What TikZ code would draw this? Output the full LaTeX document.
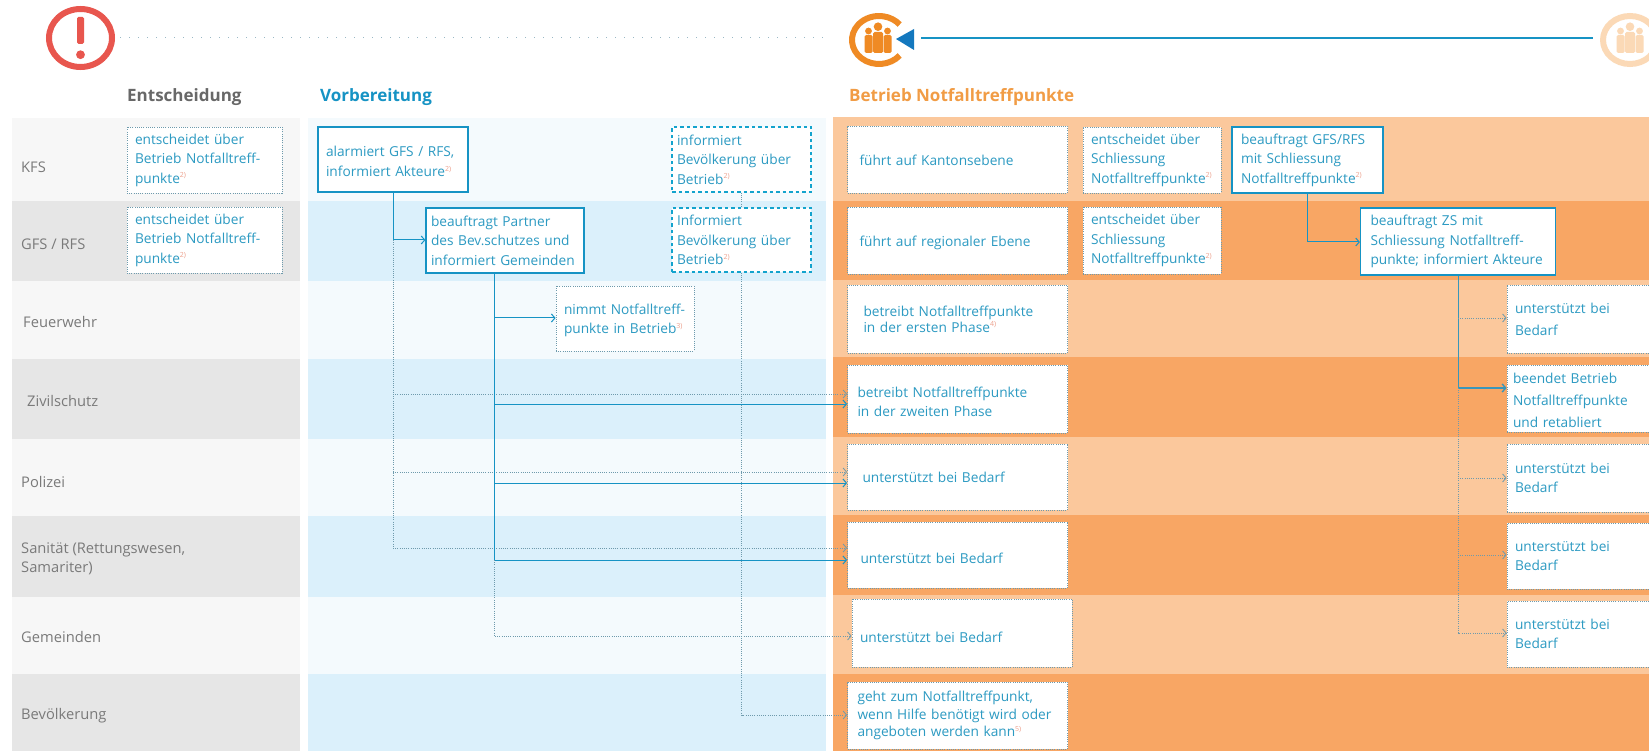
\documentclass[tikz,border=0pt]{standalone}
\usepackage{fontspec}
\setmainfont{Open Sans}
\usetikzlibrary{arrows.meta}
\definecolor{flowblue}{HTML}{1693C4}
\definecolor{txtblue}{HTML}{2C9AC2}
\definecolor{txtgray}{HTML}{7A7A7A}
\definecolor{dotgray}{HTML}{6E9AAC}
\definecolor{notered}{HTML}{EDA08C}
\definecolor{greylo}{HTML}{F7F7F7}
\definecolor{greyhi}{HTML}{E6E6E6}
\definecolor{bluelo}{HTML}{F4FAFD}
\definecolor{bluehi}{HTML}{DBF0FB}
\definecolor{orangelo}{HTML}{FBC89C}
\definecolor{orangehi}{HTML}{F8A664}
\definecolor{alarmred}{HTML}{E8564E}
\definecolor{personorange}{HTML}{EF8A24}
\definecolor{personpale}{HTML}{FBD9B6}
\definecolor{tipblue}{HTML}{1478BE}
\newcommand{\fn}[1]{\textsuperscript{\textcolor{notered}{\scriptsize #1)}}}
\newcommand{\lowered}[1]{\rule{0pt}{#1pt}}
\newcommand{\peopleicon}[2]{%
  \fill[#2] (#1-9.5,31) circle (3.4);
  \fill[#2] (#1,26.7) circle (4.3);
  \fill[#2] (#1+9.5,31) circle (3.4);
  \fill[#2,rounded corners=1.5] (#1-13.5,35) rectangle (#1-5.5,53);
  \fill[#2,rounded corners=1.5] (#1-5,32) rectangle (#1+5,53);
  \fill[#2,rounded corners=1.5] (#1+5.5,35) rectangle (#1+13.5,53);
}
\tikzset{
  rowlabel/.style={anchor=west,align=left,text=txtgray,font=\fontsize{14.7}{19}\selectfont,inner sep=0pt},
  headlabel/.style={anchor=west,font=\fontsize{17}{20}\selectfont\bfseries,inner sep=0pt},
  flowbox/.style={fill=white,align=left,text=txtblue,inner ysep=0pt,inner xsep=8pt,font=\fontsize{13.7}{19.5}\selectfont},
  dotbox/.style={flowbox,draw=dotgray,line width=0.8pt,dash pattern=on 1pt off 1.2pt},
  dashbox/.style={flowbox,draw=flowblue!85!cyan,line width=1.1pt,dash pattern=on 3.5pt off 3pt},
  solidbox/.style={flowbox,draw=flowblue,line width=1.2pt},
  solidarrow/.style={draw=flowblue,line width=1pt,-{Straight Barb[length=3.5pt,width=8pt]}},
  solidline/.style={draw=flowblue,line width=1pt},
  dotarrow/.style={draw=dotgray,line width=0.8pt,dash pattern=on 1pt off 1.2pt,-{Straight Barb[length=3.5pt,width=8pt,sep=0pt,line width=0.8pt]}},
  dotline/.style={draw=dotgray,line width=0.8pt,dash pattern=on 1pt off 1.2pt}
}
\begin{document}
\begin{tikzpicture}[x=1pt,y=-1pt]
  \useasboundingbox (0,0) rectangle (1649,751);
  \fill[white] (0,0) rectangle (1649,751);

  % row bands
  \fill[greylo] (12,118) rectangle (300,201);
  \fill[greyhi] (12,201) rectangle (300,281);
  \fill[greylo] (12,281) rectangle (300,359);
  \fill[greyhi] (12,359) rectangle (300,439);
  \fill[greylo] (12,439) rectangle (300,516);
  \fill[greyhi] (12,516) rectangle (300,597);
  \fill[greylo] (12,597) rectangle (300,674);
  \fill[greyhi] (12,674) rectangle (300,751);

  \fill[bluelo] (308,118) rectangle (826,201);
  \fill[bluehi] (308,201) rectangle (826,281);
  \fill[bluelo] (308,281) rectangle (826,359);
  \fill[bluehi] (308,359) rectangle (826,439);
  \fill[bluelo] (308,439) rectangle (826,516);
  \fill[bluehi] (308,516) rectangle (826,597);
  \fill[bluelo] (308,597) rectangle (826,674);
  \fill[bluehi] (308,674) rectangle (826,751);

  \fill[orangelo] (833,117) rectangle (1649,201);
  \fill[orangehi] (833,201) rectangle (1649,280);
  \fill[orangelo] (833,280) rectangle (1649,357);
  \fill[orangehi] (833,357) rectangle (1649,437);
  \fill[orangelo] (833,437) rectangle (1649,515);
  \fill[orangehi] (833,515) rectangle (1649,595);
  \fill[orangelo] (833,595) rectangle (1649,674);
  \fill[orangehi] (833,674) rectangle (1649,751);

  % top line with icons
  \draw[alarmred,line width=6pt] (80.5,38) ellipse (31.5 and 29);
  \fill[alarmred,rounded corners=1.5] (77,17) rectangle (84,44);
  \fill[alarmred] (80.5,54.7) circle (4.4);
  \draw[dotgray!70,line width=1pt,dash pattern=on 1pt off 8pt] (120,38) -- (826,38);

  \draw[personorange,line width=6pt] ([shift={(40:27 and 24)}]879,40) arc[start angle=40,end angle=320,x radius=27,y radius=24];
  \peopleicon{878}{personorange}
  \coordinate (startline) at (921,38);
  \coordinate (endline) at (1593,38);
  \fill[tipblue] (896,39) -- (914,29) -- (914,50) -- cycle;
  \draw[flowblue,line width=1.2pt] (startline) -- (endline);

  \draw[personpale,line width=6pt] (1630,40) ellipse (27 and 24);
  \peopleicon{1630}{personpale}

  % headings
  \node[headlabel,text=txtgray!85!black] (hdec) at (127,97) {Entscheidung};
  \node[headlabel,text=flowblue] (hprep) at (320,97) {Vorbereitung};
  \node[headlabel,text=personorange!85!white] (hrun) at (849,97) {Betrieb Notfalltreffpunkte};

  % row labels
  \node[rowlabel] (rkfs) at (21,167) {KFS};
  \node[rowlabel] (rgfs) at (21,244) {GFS / RFS};
  \node[rowlabel] (rfire) at (23,322) {Feuerwehr};
  \node[rowlabel] (rzs) at (27,401) {Zivilschutz};
  \node[rowlabel] (rpol) at (21,482) {Polizei};
  \node[rowlabel] (rsan) at (21,559) {Sanität (Rettungswesen,\\Samariter)};
  \node[rowlabel] (rgem) at (21,637) {Gemeinden};
  \node[rowlabel] (rbev) at (21,715.5) {Bevölkerung};

  % Entscheidung
  \node[dotbox,text width=139pt,minimum height=66pt] (deckfs) at (204.5,160) {entscheidet über\\Betrieb Notfalltreff-\\punkte\fn{2}};
  \node[dotbox,text width=139pt,minimum height=66pt] (decgfs) at (204.5,240) {entscheidet über\\Betrieb Notfalltreff-\\punkte\fn{2}};

  % Vorbereitung
  \node[solidbox,text width=134pt,minimum height=65pt] (alarm) at (393,159.5) {\lowered{14.5}alarmiert GFS / RFS,\\informiert Akteure\fn{2}};
  \node[solidbox,inner xsep=5pt,text width=148pt,minimum height=65pt] (partner) at (505,240.5) {beauftragt Partner\\des Bev.schutzes und\\informiert Gemeinden};
  \node[dashbox,inner xsep=5pt,text width=129pt,minimum height=65pt] (infokfs) at (741.5,159.5) {informiert\\Bevölkerung über\\Betrieb\fn{2}};
  \node[dashbox,inner xsep=5pt,text width=129pt,minimum height=64pt] (infogfs) at (741.5,240) {Informiert\\Bevölkerung über\\Betrieb\fn{2}};
  \node[dotbox,text width=122pt,minimum height=65pt] (nimmt) at (625,318.5) {\lowered{14.5}nimmt Notfalltreff-\\punkte in Betrieb\fn{3}};

  % Betrieb, linke Spalte
  \node[dotbox,inner xsep=12pt,text width=196pt,minimum height=67pt] (fkanton) at (957.5,159.5) {\lowered{12.5}führt auf Kantonsebene};
  \node[dotbox,inner xsep=12pt,text width=196pt,minimum height=67pt] (fregion) at (957.5,240.5) {\lowered{14.5}führt auf regionaler Ebene};
  \node[dotbox,inner xsep=16pt,text width=188pt,minimum height=68pt,font=\fontsize{13.7}{16}\selectfont] (erste) at (957.5,319) {betreibt Notfalltreffpunkte\\in der ersten Phase\fn{4}};
  \node[dotbox,inner xsep=10pt,text width=200pt,minimum height=68pt] (zweite) at (957.5,399) {\lowered{16.5}betreibt Notfalltreffpunkte\\in der zweiten Phase};
  \node[dotbox,inner xsep=15pt,text width=190pt,minimum height=66pt] (upol) at (957.5,477) {unterstützt bei Bedarf};
  \node[dotbox,inner xsep=13pt,text width=194pt,minimum height=66pt] (usan) at (957.5,555) {\lowered{16.5}unterstützt bei Bedarf};
  \node[dotbox,text width=204pt,minimum height=68pt] (ugem) at (962,633) {\lowered{19}unterstützt bei Bedarf};
  \node[dotbox,inner xsep=10pt,text width=200pt,minimum height=67pt,font=\fontsize{13.7}{17.5}\selectfont] (geht) at (957.5,715.5) {geht zum Notfalltreffpunkt,\\wenn Hilfe benötigt wird oder\\angeboten werden kann\fn{5}};

  % Betrieb, Schliessung
  \node[dotbox,text width=122pt,minimum height=66pt] (schlkfs) at (1152,160) {entscheidet über\\Schliessung\\Notfalltreffpunkte\fn{2}};
  \node[dotbox,text width=122pt,minimum height=67pt] (schlgfs) at (1152,240.5) {entscheidet über\\Schliessung\\Notfalltreffpunkte\fn{2}};
  \node[solidbox,inner xsep=9pt,text width=133pt,minimum height=66pt] (bgfs) at (1307.5,160) {beauftragt GFS/RFS\\mit Schliessung\\Notfalltreffpunkte\fn{2}};
  \node[solidbox,inner xsep=10pt,text width=175pt,minimum height=67pt] (bzs) at (1458,241.5) {beauftragt ZS mit\\Schliessung Notfalltreff-\\punkte; informiert Akteure};

  % Betrieb, rechte Spalte
  \node[dotbox,text width=130pt,minimum height=68pt,font=\fontsize{13.7}{22}\selectfont] (ufire) at (1580,319) {unterstützt bei\\Bedarf};
  \node[dotbox,inner xsep=6pt,text width=134pt,minimum height=67pt,font=\fontsize{13.7}{22}\selectfont] (beendet) at (1580,398.5) {\lowered{14.5}beendet Betrieb\\Notfalltreffpunkte\\und retabliert};
  \node[dotbox,text width=130pt,minimum height=68pt] (upolb) at (1580,478) {unterstützt bei\\Bedarf};
  \node[dotbox,text width=130pt,minimum height=66pt] (usanb) at (1580,556) {unterstützt bei\\Bedarf};
  \node[dotbox,text width=130pt,minimum height=66pt] (ugemb) at (1580,634) {unterstützt bei\\Bedarf};

  % Verbindungen Vorbereitung
  \coordinate (a1) at (alarm.south |- 0,240);
  \draw[solidline] (alarm.south) -- (a1);
  \draw[solidarrow] (a1) -- (partner.west |- a1);
  \coordinate (a2) at (a1 |- 0,394);
  \coordinate (a3) at (a1 |- 0,472);
  \coordinate (a4) at (a1 |- 0,548);
  \draw[dotarrow] (a1) -- (a4) -- (zweite.west |- a4);
  \draw[dotarrow] (a2) -- (zweite.west |- a2);
  \draw[dotarrow] (a3) -- (upol.west |- a3);

  \coordinate (p0) at (494,273);
  \coordinate (p1) at (p0 |- 0,318);
  \coordinate (p2) at (p0 |- 0,404);
  \coordinate (p3) at (p0 |- 0,483);
  \coordinate (p4) at (p0 |- 0,560);
  \coordinate (p5) at (p0 |- 0,636);
  \draw[solidline] (p0) -- (p4);
  \draw[solidarrow] (p1) -- (nimmt.west |- p1);
  \draw[solidarrow] (p2) -- (zweite.west |- p2);
  \draw[solidarrow] (p3) -- (upol.west |- p3);
  \draw[solidarrow] (p4) -- (usan.west |- p4);
  \draw[dotarrow] (p4) -- (p5) -- (ugem.west |- p5);

  \coordinate (i1) at (infogfs.south |- 0,715);
  \draw[dotline] (infokfs.south) -- (infogfs.north);
  \draw[dotarrow] (infogfs.south) -- (i1) -- (geht.west |- i1);

  % Verbindungen Betrieb
  \coordinate (b1) at (bgfs.south |- 0,242);
  \draw[solidline] (bgfs.south) -- (b1);
  \draw[solidarrow] (b1) -- (bzs.west |- b1);

  \coordinate (z1) at (bzs.south |- 0,318);
  \coordinate (z2) at (bzs.south |- 0,388);
  \coordinate (z3) at (bzs.south |- 0,478);
  \coordinate (z4) at (bzs.south |- 0,555);
  \coordinate (z5) at (bzs.south |- 0,633);
  \draw[solidline,draw=flowblue!60!dotgray] (bzs.south) -- (z2);
  \draw[solidarrow,draw=flowblue!60!dotgray,line width=1.4pt] (z2) -- (beendet.west |- z2);
  \draw[dotarrow] (z1) -- (ufire.west |- z1);
  \draw[dotarrow] (z2) -- (z5) -- (ugemb.west |- z5);
  \draw[dotarrow] (z3) -- (upolb.west |- z3);
  \draw[dotarrow] (z4) -- (usanb.west |- z4);
\end{tikzpicture}
\end{document}
